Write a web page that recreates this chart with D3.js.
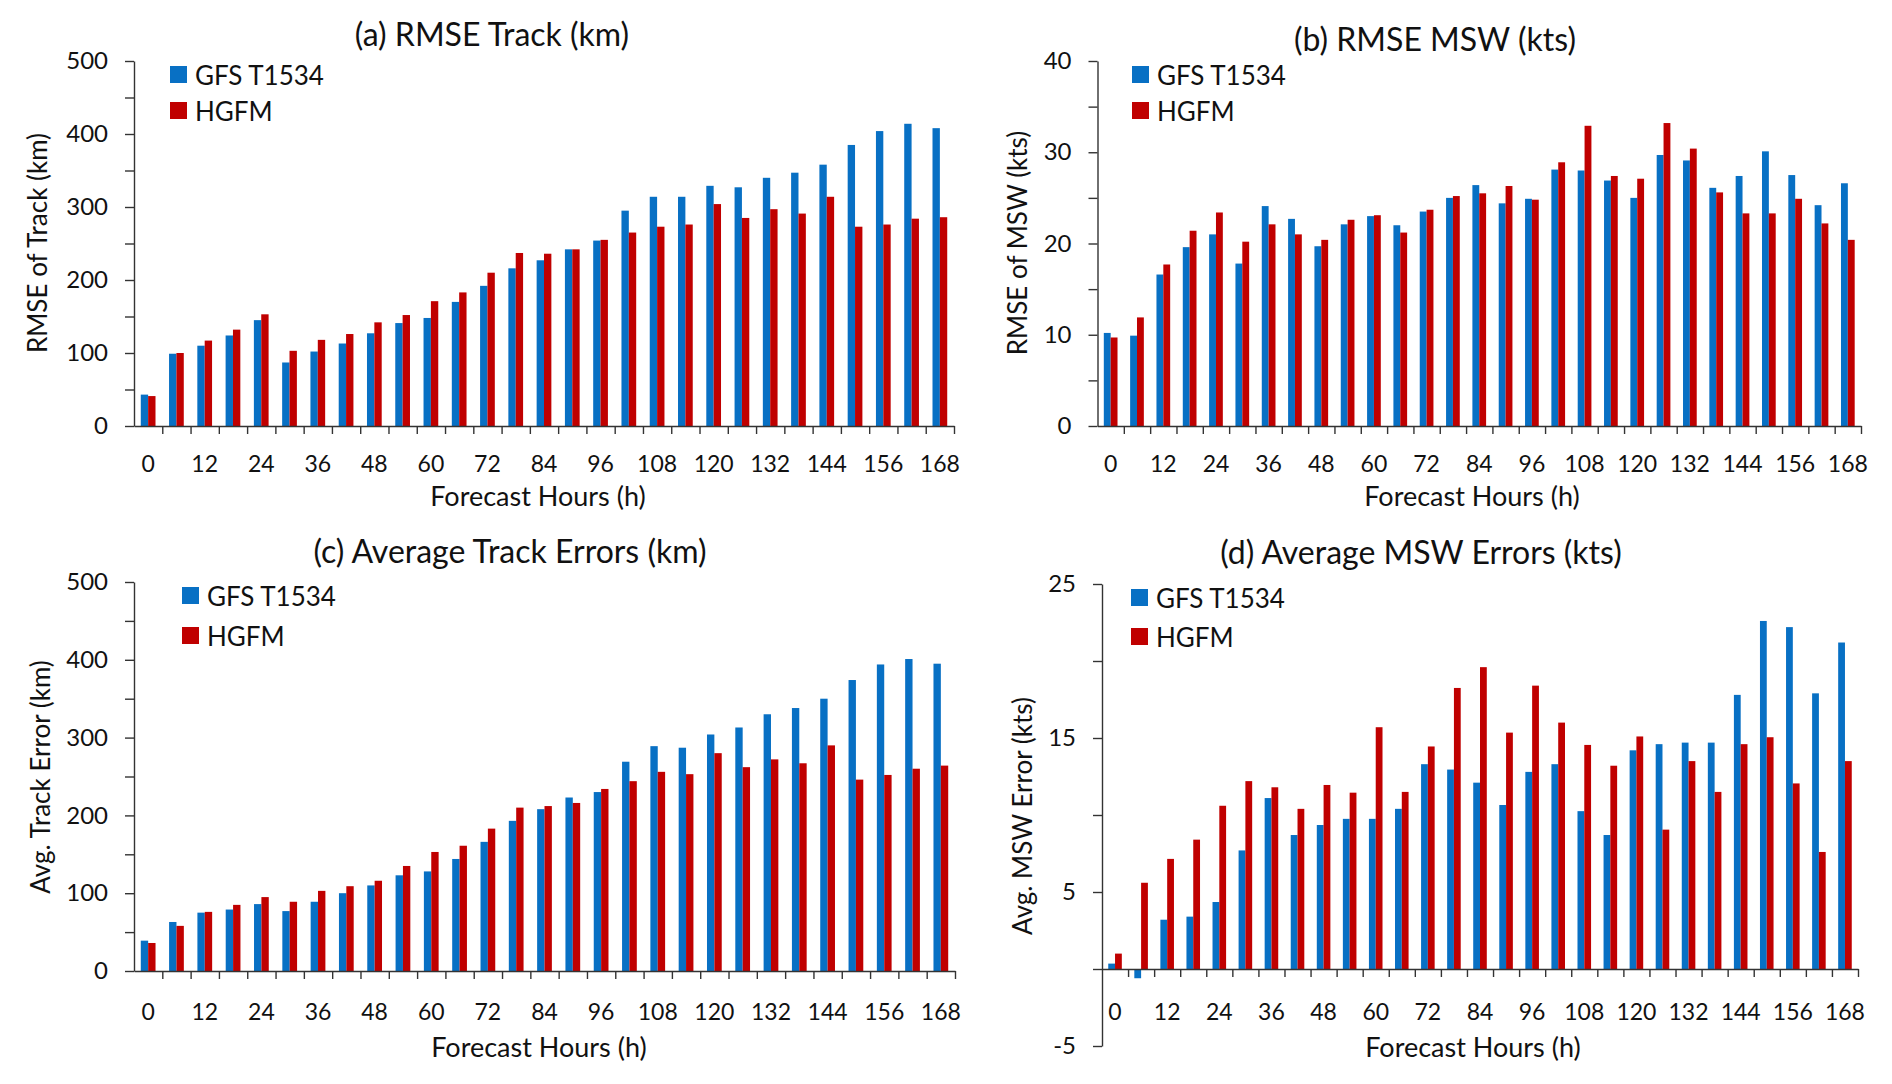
<!DOCTYPE html>
<html>
<head>
<meta charset="utf-8">
<script src="https://cdn.jsdelivr.net/npm/d3@7"></script>
<style>
  body { margin: 0; background: #fff; }
  svg text { font-family: Lato, "Open Sans", sans-serif; fill: #111; }
</style>
</head>
<body>
<div id="app"></div>
<script>
// forecast hours (categories)
const hours = [0, 6, 12, 18, 24, 30, 36, 42, 48, 54, 60, 66, 72, 78, 84, 90, 96,
               102, 108, 114, 120, 126, 132, 138, 144, 150, 156, 162, 168]
const seriesNames = ['GFS T1534', 'HGFM']

// (a) RMSE track (km)
const trackRmseGfs = [43, 99, 110, 124, 145, 87, 102, 113, 127, 141, 148, 170, 192, 216, 227, 242, 254,
                      295, 314, 314, 329, 327, 340, 347, 358, 385, 404, 414, 408]
const trackRmseHgfm = [41, 100, 117, 132, 153, 103, 118, 126, 142, 152, 171, 183, 210, 237, 236, 242, 255,
                       265, 273, 276, 304, 285, 297, 291, 314, 273, 276, 284, 286]

// (b) RMSE MSW (kts)
const mswRmseGfs = [10.2, 9.9, 16.6, 19.6, 21.0, 17.8, 24.1, 22.7, 19.7, 22.1, 23.0, 22.0, 23.5, 25.0, 26.4, 24.4, 24.9,
                    28.1, 28.0, 26.9, 25.0, 29.7, 29.1, 26.1, 27.4, 30.1, 27.5, 24.2, 26.6]
const mswRmseHgfm = [9.7, 11.9, 17.7, 21.4, 23.4, 20.2, 22.1, 21.0, 20.4, 22.6, 23.1, 21.2, 23.7, 25.2, 25.5, 26.3, 24.8,
                     28.9, 32.9, 27.4, 27.1, 33.2, 30.4, 25.6, 23.3, 23.3, 24.9, 22.2, 20.4]

// (c) average track errors (km)
const trackAvgGfs = [39, 63, 75, 79, 86, 77, 89, 100, 110, 123, 128, 144, 166, 193, 208, 223, 230,
                     269, 289, 287, 304, 313, 330, 338, 350, 374, 394, 401, 395]
const trackAvgHgfm = [36, 58, 76, 85, 95, 89, 103, 109, 116, 135, 153, 161, 183, 210, 212, 216, 234,
                      244, 256, 253, 280, 262, 272, 267, 290, 246, 252, 260, 264]

// (d) average MSW errors (kts)
const mswAvgGfs = [0.35, -0.6, 3.2, 3.4, 4.35, 7.7, 11.1, 8.7, 9.35, 9.75, 9.75, 10.4, 13.3, 12.95, 12.1, 10.65, 12.8,
                   13.3, 10.25, 8.7, 14.2, 14.6, 14.7, 14.7, 17.8, 22.6, 22.2, 17.9, 21.2]
const mswAvgHgfm = [1.0, 5.6, 7.15, 8.4, 10.6, 12.2, 11.8, 10.4, 11.95, 11.45, 15.7, 11.5, 14.45, 18.25, 19.6, 15.35, 18.4,
                    16.0, 14.55, 13.2, 15.1, 9.05, 13.5, 11.5, 14.6, 15.05, 12.05, 7.6, 13.5]

// y tick labels
const trackTicks = [0, 100, 200, 300, 400, 500]
const mswRmseTicks = [0, 10, 20, 30, 40]
const mswAvgTicks = [-5, 5, 15, 25]

const colors = ['#0870C4', '#C00000']

const panels = [
  { title: '(a) RMSE Track (km)', ytitle: 'RMSE of Track (km)', values: [trackRmseGfs, trackRmseHgfm],
    domain: [0, 500], step: 50, ticks: trackTicks,
    left: 134, right: 954, top: 61, bottom: 426,
    titleX: 492, titleY: 33, ytitleX: 37, ytitleY: 243, xtitleX: 538, xtitleY: 495, labelY: 463,
    legX: 170, legY: [66, 102] },
  { title: '(b) RMSE MSW (kts)', ytitle: 'RMSE of MSW (kts)', values: [mswRmseGfs, mswRmseHgfm],
    domain: [0, 40], step: 5, ticks: mswRmseTicks,
    left: 1097.5, right: 1861, top: 61, bottom: 426,
    titleX: 1435, titleY: 38, ytitleX: 1017, ytitleY: 243, xtitleX: 1472, xtitleY: 495, labelY: 463,
    legX: 1132, legY: [66, 102] },
  { title: '(c) Average Track Errors (km)', ytitle: 'Avg. Track Error (km)', values: [trackAvgGfs, trackAvgHgfm],
    domain: [0, 500], step: 50, ticks: trackTicks,
    left: 134, right: 955, top: 582, bottom: 971,
    titleX: 510, titleY: 550, ytitleX: 40, ytitleY: 777, xtitleX: 539, xtitleY: 1046, labelY: 1011,
    legX: 182, legY: [587, 627] },
  { title: '(d) Average MSW Errors (kts)', ytitle: 'Avg. MSW Error (kts)', values: [mswAvgGfs, mswAvgHgfm],
    domain: [-5, 25], step: 5, ticks: mswAvgTicks,
    left: 1102, right: 1858, top: 584, bottom: 1046,
    titleX: 1421, titleY: 551, ytitleX: 1022, ytitleY: 816, xtitleX: 1473, xtitleY: 1046, labelY: 1011,
    legX: 1131, legY: [589, 628] }
]

const svg = d3.select('#app').append('svg')
    .attr('width', 1892)
    .attr('height', 1084)

panels.forEach(p => {
  const g = svg.append('g')

  const y = d3.scaleLinear().domain(p.domain).range([p.bottom, p.top])
  const x0 = d3.scaleBand().domain(hours).range([p.left, p.right])
  const x1 = d3.scaleBand().domain([0, 1]).range([0, x0.bandwidth()]).paddingOuter(0.92)
  const xi = d3.scaleLinear().domain([0, hours.length]).range([p.left, p.right])

  // bars
  p.values.forEach((vals, s) => {
    g.append('g').selectAll('rect')
      .data(vals)
      .join('rect')
        .attr('x', (d, i) => x0(hours[i]) + x1(s))
        .attr('width', x1.bandwidth())
        .attr('y', d => Math.min(y(d), y(0)))
        .attr('height', d => Math.abs(y(d) - y(0)))
        .attr('fill', colors[s])
  })

  // y axis, minor ticks unlabeled
  const minor = d3.range(p.domain[0], p.domain[1] + p.step / 2, p.step)
  const yAxis = g.append('g')
      .attr('transform', `translate(${p.left},0)`)
      .call(d3.axisLeft(y).tickValues(minor).tickSize(9).tickSizeOuter(0).tickPadding(17)
        .tickFormat(d => p.ticks.includes(d) ? d : ''))
  yAxis.selectAll('text').style('font-size', '24px')

  // x axis at zero, ticks between categories
  g.append('g')
      .attr('transform', `translate(0,${y(0)})`)
      .call(d3.axisBottom(xi).tickValues(d3.range(1, hours.length + 1)).tickSize(8).tickSizeOuter(0).tickFormat(''))

  g.selectAll('.domain, .tick line').attr('stroke', '#333').attr('stroke-width', 1.4)

  g.append('g').selectAll('text')
    .data(hours.filter(h => h % 12 === 0))
    .join('text')
      .attr('x', h => x0(h) + x0.bandwidth() / 2)
      .attr('y', p.labelY)
      .attr('text-anchor', 'middle')
      .attr('dominant-baseline', 'central')
      .style('font-size', '23px')
      .text(h => h)

  // titles
  g.append('text')
      .attr('x', p.titleX).attr('y', p.titleY)
      .attr('text-anchor', 'middle').attr('dominant-baseline', 'central')
      .style('font-size', '32px')
      .text(p.title)
  g.append('text')
      .attr('x', p.xtitleX).attr('y', p.xtitleY)
      .attr('text-anchor', 'middle').attr('dominant-baseline', 'central')
      .style('font-size', '27px')
      .text('Forecast Hours (h)')
  g.append('text')
      .attr('transform', `translate(${p.ytitleX},${p.ytitleY}) rotate(-90)`)
      .attr('text-anchor', 'middle').attr('dominant-baseline', 'central')
      .style('font-size', '26px')
      .text(p.ytitle)

  // legend
  seriesNames.forEach((name, s) => {
    g.append('rect')
        .attr('x', p.legX).attr('y', p.legY[s])
        .attr('width', 17).attr('height', 17)
        .attr('fill', colors[s])
    g.append('text')
        .attr('x', p.legX + 25).attr('y', p.legY[s] + 9)
        .attr('dominant-baseline', 'central')
        .style('font-size', '26px')
        .text(name)
  })
})
</script>
</body>
</html>
